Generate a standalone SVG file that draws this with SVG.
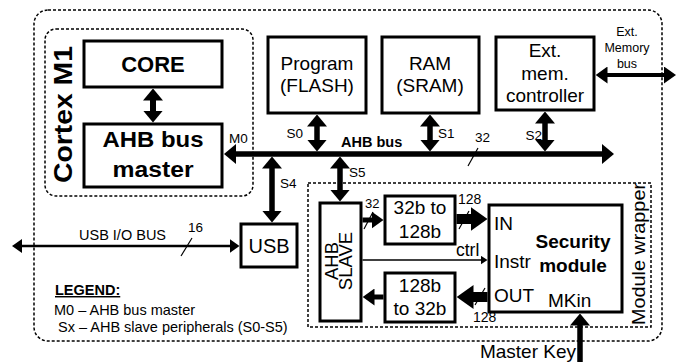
<svg xmlns="http://www.w3.org/2000/svg" width="685" height="362" viewBox="0 0 685 362">
  <style>
    text { font-family: "Liberation Sans", Arial, sans-serif; fill: #000; }
    .box { fill: #fff; stroke: #000; stroke-width: 3; }
    .dash { fill: none; stroke: #000; stroke-width: 1.5; stroke-dasharray: 3 2; }
    .c { text-anchor: middle; }
    .e { text-anchor: end; }
    .b { font-weight: bold; }
    .w { stroke: #000; fill: none; }
    .tick { stroke: #000; stroke-width: 1.2; }
    .f19 { font-size: 19px; }
    .f14 { font-size: 14.5px; }
    .f13 { font-size: 13.5px; }
  </style>
  <defs>
    <marker id="ah-l" viewBox="0 -10 12 20" refX="1" refY="0" markerWidth="12" markerHeight="20" markerUnits="userSpaceOnUse" orient="auto-start-reverse">
      <path d="M0,-10 L12,0 L0,10 z" fill="#000"/>
    </marker>
    <marker id="ah-m" viewBox="0 -8.5 12 17" refX="1" refY="0" markerWidth="12" markerHeight="17" markerUnits="userSpaceOnUse" orient="auto-start-reverse">
      <path d="M0,-8.5 L12,0 L0,8.5 z" fill="#000"/>
    </marker>
    <marker id="ah-t" viewBox="0 -12 17 24" refX="1" refY="0" markerWidth="17" markerHeight="24" markerUnits="userSpaceOnUse" orient="auto-start-reverse">
      <path d="M0,-12 L17,0 L0,12 z" fill="#000"/>
    </marker>
    <marker id="ah-s" viewBox="0 -7 10 14" refX="1" refY="0" markerWidth="10" markerHeight="14" markerUnits="userSpaceOnUse" orient="auto-start-reverse">
      <path d="M0,-7 L10,0 L0,7 z" fill="#000"/>
    </marker>
    <marker id="ah-xs" viewBox="0 -4.5 7 9" refX="1" refY="0" markerWidth="7" markerHeight="9" markerUnits="userSpaceOnUse" orient="auto-start-reverse">
      <path d="M0,-4.5 L7,0 L0,4.5 z" fill="#000"/>
    </marker>
  </defs>

  <rect width="685" height="362" fill="#fff"/>

  <!-- enclosures -->
  <g id="system">
    <rect class="dash" x="34" y="10" width="628" height="331" rx="14"/>
  </g>
  <g id="cortex-m1">
    <rect class="dash" x="45" y="29" width="208" height="167" rx="11"/>
    <text class="c b" font-size="25" textLength="137" lengthAdjust="spacingAndGlyphs" transform="translate(72,114.5) rotate(-90)">Cortex M1</text>
  </g>
  <g id="module-wrapper">
    <rect class="dash" x="308" y="183" width="343" height="144"/>
    <text class="c" font-size="18.5" textLength="142" lengthAdjust="spacingAndGlyphs" transform="translate(645,254) rotate(-90)">Module wrapper</text>
  </g>

  <!-- connectors -->
  <g id="connectors">
    <line class="w" x1="153" y1="99.5" x2="153" y2="111.5" stroke-width="6" marker-start="url(#ah-l)" marker-end="url(#ah-l)"/>
    <line class="w" x1="235" y1="154" x2="603" y2="154" stroke-width="5.5" marker-start="url(#ah-l)" marker-end="url(#ah-l)"/>
    <line class="w" x1="317" y1="125.5" x2="317" y2="140.5" stroke-width="5.5" marker-start="url(#ah-l)" marker-end="url(#ah-l)"/>
    <line class="w" x1="430" y1="125.5" x2="430" y2="140.5" stroke-width="5.5" marker-start="url(#ah-l)" marker-end="url(#ah-l)"/>
    <line class="w" x1="545" y1="122.5" x2="545" y2="140.5" stroke-width="5.5" marker-start="url(#ah-l)" marker-end="url(#ah-l)"/>
    <line class="w" x1="272" y1="167.5" x2="272" y2="211.5" stroke-width="5.5" marker-start="url(#ah-l)" marker-end="url(#ah-l)"/>
    <line class="w" x1="340" y1="167.5" x2="340" y2="190.5" stroke-width="5.5" marker-start="url(#ah-l)" marker-end="url(#ah-l)"/>
    <line class="w" x1="606.5" y1="75" x2="665" y2="75" stroke-width="4" marker-start="url(#ah-m)" marker-end="url(#ah-m)"/>
    <line class="w" x1="21" y1="246" x2="230.5" y2="246" stroke-width="2.5" marker-start="url(#ah-s)" marker-end="url(#ah-s)"/>
    <line class="w" x1="362.5" y1="220" x2="372.5" y2="220" stroke-width="5" marker-end="url(#ah-m)"/>
    <line class="w" x1="456.5" y1="219" x2="471.5" y2="219" stroke-width="10" marker-end="url(#ah-t)"/>
    <line class="w" x1="362.5" y1="260" x2="481.5" y2="260" stroke-width="1.5" marker-end="url(#ah-xs)"/>
    <line class="w" x1="487.5" y1="297" x2="472.5" y2="297" stroke-width="10" marker-end="url(#ah-t)"/>
    <line class="w" x1="383.5" y1="297" x2="373.5" y2="297" stroke-width="5" marker-end="url(#ah-m)"/>
    <line class="w" x1="580" y1="362" x2="580" y2="324.5" stroke-width="5.5" marker-end="url(#ah-l)"/>
    <!-- bus width ticks -->
    <line class="tick" x1="468" y1="166" x2="478" y2="148"/>
    <line class="tick" x1="181" y1="256" x2="192" y2="238"/>
    <line class="tick" x1="364" y1="229" x2="373" y2="212"/>
    <line class="tick" x1="459" y1="229" x2="469" y2="211"/>
    <line class="tick" x1="475" y1="305" x2="485" y2="288"/>
  </g>

  <!-- connector labels -->
  <g id="labels">
    <text class="f13" x="229" y="143">M0</text>
    <text class="f13 e" x="303" y="138">S0</text>
    <text class="f13" x="438" y="138">S1</text>
    <text class="f13 e" x="542" y="140">S2</text>
    <text class="f13" x="280" y="188">S4</text>
    <text class="f13" x="349" y="177">S5</text>
    <text class="b" font-size="14.5" x="341" y="147">AHB bus</text>
    <text class="f13" x="475" y="142">32</text>
    <text class="c" font-size="12.5" x="627" y="36">Ext.</text>
    <text class="c" font-size="12.5" x="627" y="52">Memory</text>
    <text class="c" font-size="12.5" x="627" y="68">bus</text>
    <text class="f14" x="79" y="240">USB I/O BUS</text>
    <text class="f13" x="188" y="232">16</text>
    <text font-size="13" x="365" y="208">32</text>
    <text font-size="14" x="458" y="204">128</text>
    <text font-size="17.5" x="456" y="256">ctrl</text>
    <text font-size="14" x="473" y="322">128</text>
    <text class="f19 e" x="576" y="358">Master Key</text>
  </g>

  <!-- nodes -->
  <g id="core">
    <rect class="box" x="84" y="41" width="138" height="46"/>
    <text class="c b" font-size="22" x="153" y="72">CORE</text>
  </g>
  <g id="ahb-master">
    <rect class="box" x="84" y="124" width="138" height="63"/>
    <text class="c b" font-size="22" textLength="101" lengthAdjust="spacingAndGlyphs" x="153" y="147">AHB bus</text>
    <text class="c b" font-size="22" textLength="81" lengthAdjust="spacingAndGlyphs" x="153" y="177">master</text>
  </g>
  <g id="flash">
    <rect class="box" x="268" y="37" width="98" height="76"/>
    <text class="c f19" x="317" y="70">Program</text>
    <text class="c f19" x="317" y="92">(FLASH)</text>
  </g>
  <g id="sram">
    <rect class="box" x="382" y="37" width="97" height="76"/>
    <text class="c f19" x="430" y="69.5">RAM</text>
    <text class="c f19" x="430" y="92">(SRAM)</text>
  </g>
  <g id="ext-mem-ctrl">
    <rect class="box" x="496" y="37" width="98" height="73"/>
    <text class="c f19" x="545" y="57">Ext.</text>
    <text class="c f19" x="545" y="80">mem.</text>
    <text class="c f19" x="545" y="102">controller</text>
  </g>
  <g id="usb">
    <rect class="box" x="241" y="224" width="56" height="43"/>
    <text class="c" font-size="20" x="269" y="253">USB</text>
  </g>
  <g id="ahb-slave">
    <rect class="box" x="320" y="203" width="41" height="118"/>
    <text class="c" font-size="18.5" transform="translate(338,261) rotate(-90)">AHB</text>
    <text class="c" font-size="18.5" transform="translate(352,261) rotate(-90)">SLAVE</text>
  </g>
  <g id="up-converter">
    <rect class="box" x="385" y="196" width="70" height="48"/>
    <text class="c f19" x="420" y="214">32b to</text>
    <text class="c f19" x="420" y="238">128b</text>
  </g>
  <g id="down-converter">
    <rect class="box" x="385" y="273" width="70" height="49"/>
    <text class="c f19" x="420" y="292">128b</text>
    <text class="c f19" x="420" y="315">to 32b</text>
  </g>
  <g id="security-module">
    <rect class="box" x="489" y="205" width="133" height="107"/>
    <text class="f19" x="494" y="230">IN</text>
    <text class="f19" x="494" y="268">Instr</text>
    <text class="f19" x="494" y="302">OUT</text>
    <text class="f19" x="548" y="307">MKin</text>
    <text class="c b f19" x="573" y="248">Security</text>
    <text class="c b f19" x="573" y="272">module</text>
  </g>

  <!-- legend -->
  <g id="legend">
    <text class="b f14" x="55" y="295" text-decoration="underline">LEGEND:</text>
    <text class="f14" x="54" y="315">M0 – AHB bus master</text>
    <text class="f14" x="58" y="332">Sx – AHB slave peripherals (S0-S5)</text>
  </g>
</svg>
